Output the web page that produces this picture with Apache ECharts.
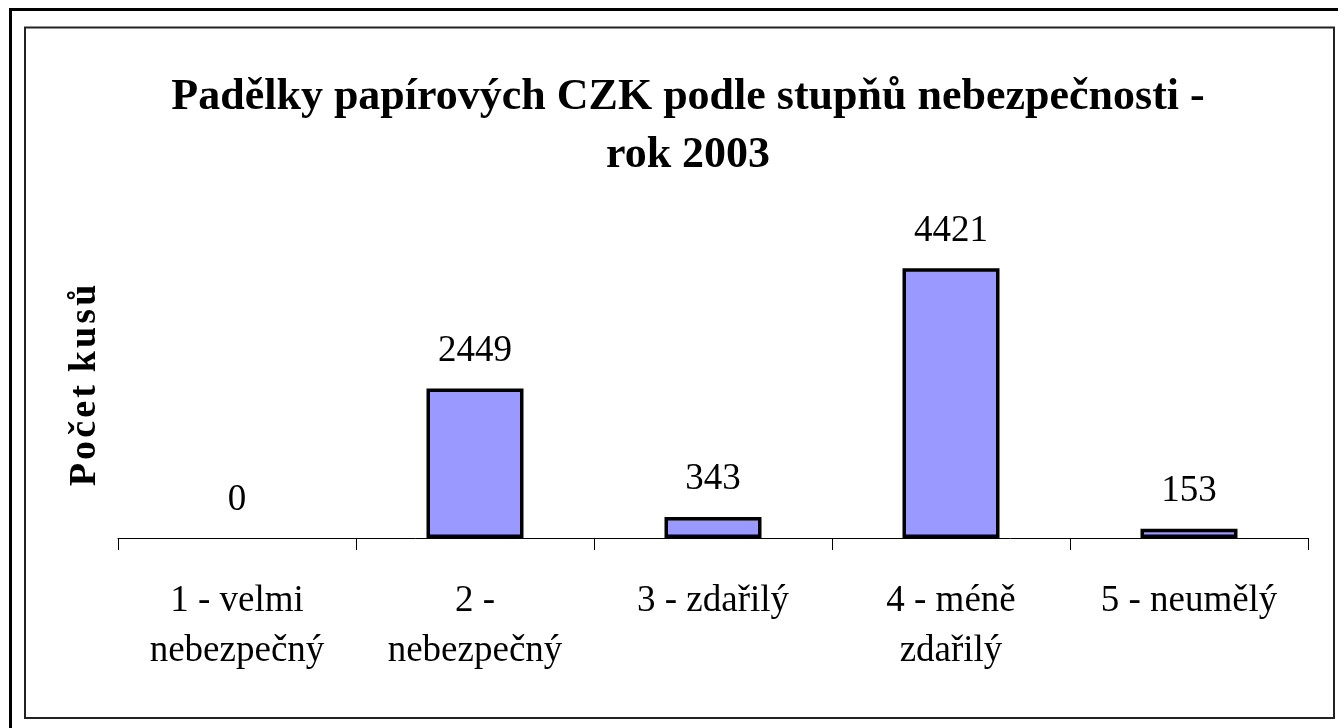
<!DOCTYPE html>
<html lang="cs">
<head>
  <meta charset="UTF-8">
  <title>Padělky papírových CZK</title>
  <style>
    html, body { margin: 0; padding: 0; background: #fff; }
    #main { width: 1338px; height: 728px; }
  </style>
</head>
<body>
<div id="main"></div>
<script src="https://cdn.jsdelivr.net/npm/echarts@6/dist/echarts.min.js"></script>
<script>
  // data
  var categories = ['1 - velmi\nnebezpečný', '2 -\nnebezpečný', '3 - zdařilý', '4 - méně\nzdařilý', '5 - neumělý'];
  var counts = [0, 2449, 343, 4421, 153];
  var titleText = 'Padělky papírových CZK podle stupňů nebezpečnosti -\nrok 2003';
  var yName = 'P\u200ao\u200ač\u200ae\u200at\u200a k\u200au\u200as\u200aů';

  var serif = '"Liberation Serif", "DejaVu Serif", serif';
  var myChart = echarts.init(document.getElementById('main'));

  var option = {
    animation: false,
    backgroundColor: '#fff',
    graphic: [
      { // outer frame, runs off the right and bottom edges
        type: 'rect', silent: true,
        shape: { x: 10.5, y: 9.5, width: 1340, height: 740 },
        style: { fill: null, stroke: '#000', lineWidth: 3 }
      },
      { // inner frame
        type: 'rect', silent: true,
        shape: { x: 25, y: 27.5, width: 1309, height: 690.5 },
        style: { fill: null, stroke: '#222', lineWidth: 2 }
      }
    ],
    title: {
      text: titleText,
      left: 683,
      top: 64,
      textAlign: 'center',
      textStyle: {
        fontFamily: serif,
        fontWeight: 'bold',
        fontSize: 44,
        lineHeight: 58,
        color: '#000'
      }
    },
    grid: { left: 118, right: 30, top: 233, bottom: 190 },
    xAxis: {
      type: 'category',
      data: categories,
      axisLine: { lineStyle: { color: '#000', width: 1 } },
      axisTick: { show: true, length: 12, lineStyle: { color: '#000' } },
      axisLabel: {
        interval: 0,
        margin: 38,
        color: '#000',
        fontFamily: serif,
        fontSize: 37,
        lineHeight: 50
      }
    },
    yAxis: {
      type: 'value',
      min: 0,
      max: 5000,
      axisLine: { show: false },
      axisTick: { show: false },
      axisLabel: { show: false },
      splitLine: { show: false },
      name: yName,
      nameLocation: 'middle',
      nameRotate: 90,
      nameGap: 14,
      nameTextStyle: {
        fontFamily: serif,
        fontWeight: 'bold',
        fontSize: 38,
        color: '#000'
      }
    },
    series: [{
      type: 'bar',
      barWidth: 97,
      data: counts.map(function (v) {
        return { value: v, itemStyle: { borderWidth: v > 0 ? 3.5 : 0 } };
      }),
      itemStyle: { color: '#9999ff', borderColor: '#000', borderWidth: 3.5 },
      label: {
        show: true,
        position: 'top',
        distance: 19,
        color: '#000',
        fontFamily: serif,
        fontSize: 37
      }
    }]
  };

  myChart.setOption(option);
</script>
</body>
</html>
